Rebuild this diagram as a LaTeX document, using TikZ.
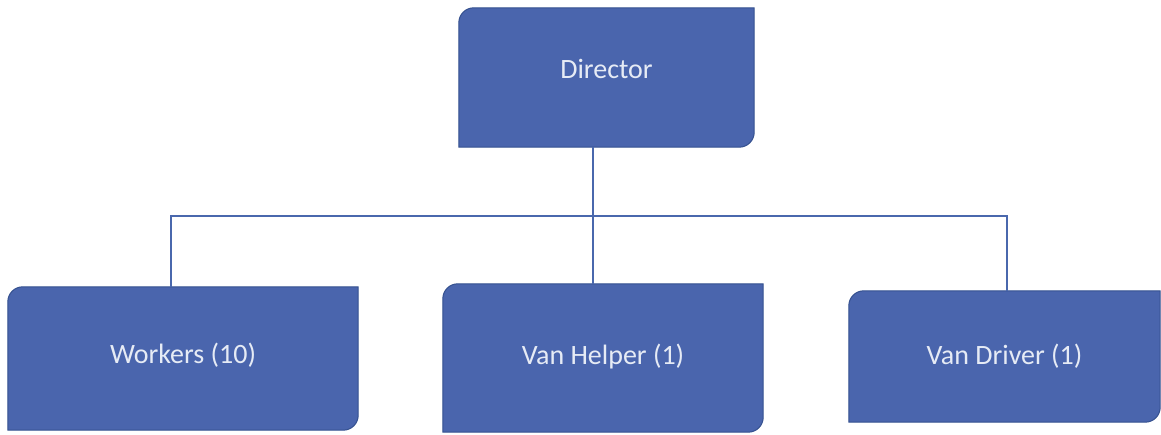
\documentclass[tikz,border=0pt]{standalone}
\usepackage{fontspec}
\setmainfont{Carlito}
\usetikzlibrary{backgrounds,calc}
\definecolor{boxblue}{HTML}{4A65AD}
\definecolor{boxedge}{HTML}{34508F}
\definecolor{linkblue}{HTML}{4A68AD}
\definecolor{txt}{HTML}{E6EBF5}
\tikzset{
  role/.style={inner sep=0pt, text=txt, font=\fontsize{28}{32}\selectfont},
  link/.style={draw=linkblue, line width=2pt},
  shapefill/.style={fill=boxblue, draw=boxedge, line width=1pt}
}
\newcommand\diagbox[1]{%
  \filldraw[shapefill] ([yshift=-15pt]#1.north west) arc[start angle=180,end angle=90,radius=15pt]
    -- (#1.north east) -- ([yshift=15pt]#1.south east) arc[start angle=0,end angle=-90,radius=15pt]
    -- (#1.south west) -- cycle;}
\begin{document}
\begin{tikzpicture}[x=1pt,y=1pt]
\useasboundingbox (0,0) rectangle (1161,434);
\fill[white] (0,0) rectangle (1161,434);
\node[role, minimum width=295pt, minimum height=139pt] (d) at (606.5,356.5) {};
\node[role, minimum width=350pt, minimum height=143pt] (w) at (183,75.5) {};
\node[role, minimum width=320pt, minimum height=148pt] (h) at (603,76) {};
\node[role, minimum width=311pt, minimum height=131pt] (v) at (1004.5,77.5) {};
\diagbox{d}\diagbox{w}\diagbox{h}\diagbox{v}
\node[role] (dt) at ([yshift=9pt]d.center) {Director};
\node[role] (wt) at ([yshift=3pt]w.center) {Workers (10)};
\node[role] (ht) at ([yshift=1pt]h.center) {Van Helper (1)};
\node[role] (vt) at (v.center) {Van Driver (1)};
\coordinate (j) at (593,218);
\coordinate (wl) at (171,218);
\coordinate (dr) at (1007,218);
\draw[link] (d.south -| j) -- (h.north -| j);
\draw[link] (w.north -| wl) -- (wl) -- (dr) -- (v.north -| dr);
\end{tikzpicture}
\end{document}
